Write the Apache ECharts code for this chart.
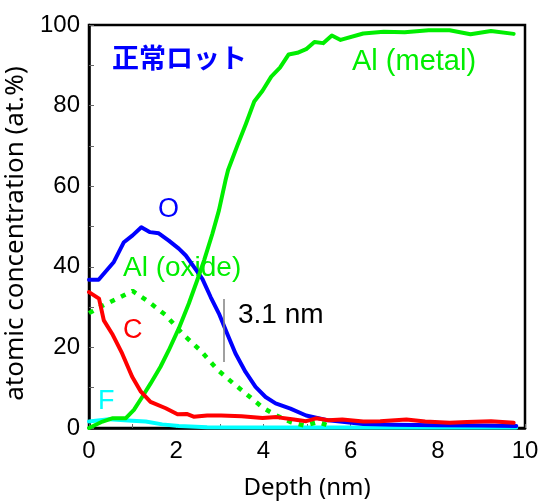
<!DOCTYPE html>
<html>
<head>
<meta charset="utf-8">
<script src="https://cdn.jsdelivr.net/npm/echarts@6/dist/echarts.min.js"></script>
<style>html,body{margin:0;padding:0;background:#fff}#c{width:545px;height:502px}</style>
</head>
<body>
<div id="c"></div>
<script>
// ---- data ----
var xTicks = [0, 2, 4, 6, 8, 10];
var yTicks = [0, 20, 40, 60, 80, 100];

var oDepth = [0, 0.22, 0.57, 0.8, 1.0, 1.2, 1.4, 1.6, 1.83, 2.06, 2.22, 2.41, 2.6, 2.79, 2.98, 3.17, 3.36, 3.59, 3.82, 4.05, 4.28, 4.62, 4.98, 5.49, 6.29, 7.0, 8.0, 9.0, 9.8];
var oValue = [36.8, 36.8, 41.2, 46.1, 47.8, 49.8, 48.6, 48.3, 46.5, 44.5, 42.8, 39.9, 37, 32.5, 28.4, 23.4, 18.5, 13.9, 10.2, 7.7, 6.1, 4.8, 3.1, 1.9, 1.0, 0.8, 0.7, 0.6, 0.5];

var alMetalDepth = [0, 0.31, 0.53, 0.84, 1.03, 1.22, 1.41, 1.64, 1.83, 2.06, 2.29, 2.48, 2.64, 2.83, 2.98, 3.13, 3.19, 3.4, 3.6, 3.79, 3.98, 4.18, 4.38, 4.58, 4.78, 4.98, 5.17, 5.37, 5.57, 5.77, 6.29, 6.76, 7.24, 7.79, 8.27, 8.75, 9.22, 9.74];
var alMetalValue = [0, 1.6, 2.4, 2.4, 4.5, 7.7, 11, 15.2, 19.3, 24.7, 30.9, 36.6, 41.6, 48.2, 54.0, 61.4, 64, 70, 75.5, 81, 83.7, 87.2, 89.4, 92.7, 93.1, 94, 95.8, 95.5, 97.4, 96.3, 97.9, 98.3, 98.2, 98.7, 98.7, 97.7, 98.5, 97.8];

var alOxideDepth = [0, 0.25, 1.0, 1.37, 1.76, 2.16, 2.56, 2.95, 3.35, 3.67, 3.98, 4.3, 4.62, 4.94, 5.25, 5.5];
var alOxideValue = [28.5, 30, 34, 31.3, 28, 23.2, 19.2, 14.4, 10.7, 7.9, 5.1, 3.1, 1.5, 0.6, 1.5, 0.6];

var cDepth = [0, 0.23, 0.34, 0.53, 0.76, 0.99, 1.19, 1.41, 1.76, 2.03, 2.24, 2.4, 2.71, 3.03, 3.5, 3.98, 4.3, 4.7, 4.98, 5.21, 5.49, 5.81, 6.29, 6.68, 7.28, 7.71, 8.27, 8.67, 9.22, 9.74];
var cValue = [33.7, 32.1, 26.7, 23.4, 18.5, 12.7, 9.0, 6.5, 4.9, 3.4, 3.5, 2.8, 3.1, 3.1, 2.9, 2.5, 2.7, 2.1, 1.7, 2.4, 1.9, 2.1, 1.6, 1.7, 2.1, 1.6, 1.3, 1.5, 1.7, 1.3];

var fDepth = [0, 0.46, 0.99, 1.3, 1.68, 2.06, 2.71, 4, 6, 8, 9.8];
var fValue = [1.6, 2.2, 1.8, 1.6, 0.9, 0.5, 0.2, 0.1, 0.1, 0.1, 0.1];

var thicknessDepth = 3.1;
var thicknessRange = [16.4, 32];

function zip(a, b) { return a.map(function (v, i) { return [v, b[i]]; }); }

var chart = echarts.init(document.getElementById('c'), null, {renderer: 'canvas'});
var BLUE = '#0000ff', GREEN = '#00ee00', RED = '#ff0000', CYAN = '#00ffff';
var LAT = 'Liberation Sans, Arial, sans-serif';

function lineSeries(name, d, v, color, extra) {
  var s = {
    name: name, type: 'line', data: zip(d, v), showSymbol: false, symbol: 'none',
    smooth: false, animation: false,
    lineStyle: {color: color, width: 4, join: 'round', cap: 'round'}
  };
  if (extra) for (var k in extra) s[k] = extra[k];
  return s;
}

var option = {
  animation: false,
  grid: {left: 89, right: 20, top: 25, bottom: 74, show: true, borderColor: '#000', borderWidth: 2.5,
         containLabel: false, outerBoundsMode: 'none'},
  xAxis: {
    type: 'value', min: 0, max: 10, interval: 1,
    name: 'Depth (nm)', nameLocation: 'middle', nameGap: 48,
    nameTextStyle: {fontFamily: 'Noto Sans', fontSize: 24, color: '#000'},
    axisLine: {show: true, lineStyle: {color: '#000', width: 2.5}},
    axisTick: {show: true, inside: true, length: 4, lineStyle: {color: '#666', width: 1}},
    axisLabel: {
      margin: 11, fontFamily: LAT, fontSize: 24, color: '#000',
      formatter: function (v) { return xTicks.indexOf(v) >= 0 ? String(v) : ''; }
    },
    splitLine: {show: false}
  },
  yAxis: {
    type: 'value', min: 0, max: 100, interval: 10,
    name: 'atomic concentration (at.%)', nameLocation: 'middle', nameGap: 51,
    nameTextStyle: {fontFamily: 'Noto Sans', fontSize: 26, color: '#000', padding: [0, 14, 0, 0]},
    axisLine: {show: true, lineStyle: {color: '#000', width: 2.5}},
    axisTick: {show: true, inside: true, length: 5, lineStyle: {color: '#666', width: 1}},
    axisLabel: {
      margin: 9, fontFamily: LAT, fontSize: 24, color: '#000',
      formatter: function (v) { return yTicks.indexOf(v) >= 0 ? String(v) : ''; }
    },
    splitLine: {show: false}
  },
  series: [
    lineSeries('F', fDepth, fValue, CYAN),
    lineSeries('O', oDepth, oValue, BLUE),
    lineSeries('Al (oxide)', alOxideDepth, alOxideValue, GREEN, {
      lineStyle: {color: GREEN, width: 4.5, type: [5, 7], cap: 'butt'}
    }),
    lineSeries('Al (metal)', alMetalDepth, alMetalValue, GREEN),
    lineSeries('C', cDepth, cValue, RED, {
      markLine: {
        silent: true, symbol: 'none', animation: false,
        label: {show: false},
        lineStyle: {color: '#808080', width: 1.5, type: 'solid'},
        data: [[{coord: [thicknessDepth, thicknessRange[0]]}, {coord: [thicknessDepth, thicknessRange[1]]}]]
      }
    })
  ],
  graphic: [
    {type: 'text', left: 112, top: 44, style: {text: '正常ロット', fill: BLUE, font: 'bold 27px "Noto Sans CJK JP"'}},
    {type: 'text', left: 352, top: 47, style: {text: 'Al (metal)', fill: GREEN, font: '29px "Liberation Sans"'}},
    {type: 'text', left: 158, top: 196, style: {text: 'O', fill: BLUE, font: '27px "Liberation Sans"'}},
    {type: 'text', left: 123, top: 254, style: {text: 'Al (oxide)', fill: GREEN, font: '28px "Liberation Sans"'}},
    {type: 'text', left: 123, top: 317, style: {text: 'C', fill: RED, font: '27px "Liberation Sans"'}},
    {type: 'text', left: 98, top: 388, style: {text: 'F', fill: CYAN, font: '27px "Liberation Sans"'}},
    {type: 'text', left: 238, top: 301, style: {text: '3.1 nm', fill: '#000', font: '28px "Liberation Sans"'}}
  ]
};
chart.setOption(option);
</script>
</body>
</html>
